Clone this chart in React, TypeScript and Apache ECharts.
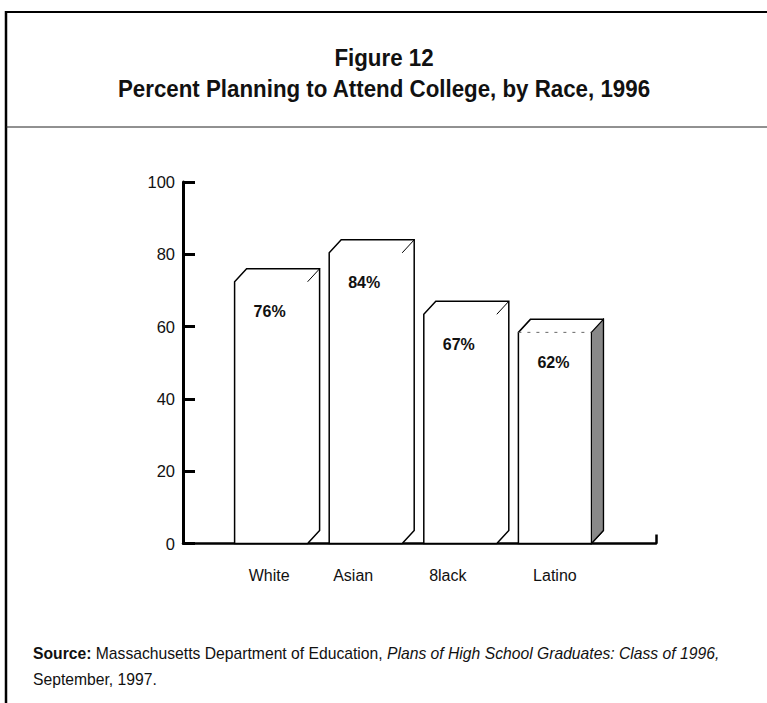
import React, { useEffect, useRef } from "react";
import * as echarts from "echarts";

const categories = ["White", "Asian", "8lack", "Latino"];
const percentPlanning = [76, 84, 67, 62];
const yMin = 0;
const yMax = 100;
const yInterval = 20;
const shadedCategory = "Latino";

const titleLine1 = "Figure 12";
const titleLine2 = "Percent Planning to Attend College, by Race, 1996";
const sourceLabel = "Source:";
const sourcePlain = " Massachusetts Department of Education, ";
const sourceItalic = "Plans of High School Graduates: Class of 1996,";
const sourceLine2 = "September, 1997.";

// style: horizontal nudge (px) of each category label, to the left
const labelNudge = [17, 38, 38, 13];

const SANS = "'Liberation Sans', Arial, Helvetica, sans-serif";

export default function App() {
  const ref = useRef<HTMLDivElement>(null);
  useEffect(() => {
    document.body.style.margin = "0";
    const chart = echarts.init(ref.current!, null, { renderer: "svg" });
    const axisData = ["", ...categories, ""];
    const DX = 12;
    const DY = 13;
    const FL = 43;
    const FR = 30;
    const titleText = (text: string, y: number) => ({
      type: "text",
      x: 384,
      y,
      scaleX: 0.93,
      style: {
        text,
        x: 0,
        y: 0,
        align: "center",
        verticalAlign: "middle",
        fontFamily: SANS,
        fontWeight: "bold",
        fontSize: 24,
        fill: "#111",
      },
    });
    const option: any = {
      animation: false,
      backgroundColor: "#ffffff",
      grid: { left: 183, right: 111, top: 182, bottom: 159.5, containLabel: false },
      xAxis: {
        type: "category",
        data: axisData,
        boundaryGap: false,
        axisLine: { show: true, lineStyle: { color: "#000", width: 2.5 } },
        axisTick: {
          show: true,
          inside: true,
          length: 9,
          interval: (index: number) => index === axisData.length - 1,
          lineStyle: { color: "#000", width: 2.5 },
        },
        axisLabel: {
          margin: 24,
          interval: 0,
          fontFamily: SANS,
          fontSize: 16,
          color: "#111",
          formatter: (v: string, i: number) => (v ? `{p${i}|${v}}` : ""),
          rich: Object.fromEntries(
            categories.map((_, k) => [
              `p${k + 1}`,
              { fontFamily: SANS, fontSize: 16, color: "#111", padding: [0, labelNudge[k], 0, 0] },
            ])
          ),
        },
        splitLine: { show: false },
      },
      yAxis: {
        type: "value",
        min: yMin,
        max: yMax,
        interval: yInterval,
        axisLine: { show: true, lineStyle: { color: "#000", width: 3 } },
        axisTick: { show: true, inside: true, length: 12, lineStyle: { color: "#000", width: 3 } },
        axisLabel: { margin: 8, fontFamily: SANS, fontSize: 16.5, color: "#111" },
        splitLine: { show: false },
      },
      series: [
        {
          type: "custom",
          clip: false,
          data: percentPlanning.map((v, i) => [i + 1, v]),
          renderItem: (params: any, api: any) => {
            const idx = api.value(0);
            const val = api.value(1);
            const pt = api.coord([idx, val]);
            const c = pt[0];
            const top = pt[1];
            const base = api.coord([idx, 0])[1];
            const x0 = c - FL;
            const x1 = c + FR;
            const shaded = categories[idx - 1] === shadedCategory;
            const children: any[] = [
              {
                type: "polygon",
                shape: {
                  points: [
                    [x0, base],
                    [x0, top + DY],
                    [x0 + DX, top],
                    [x1 + DX, top],
                    [x1 + DX, base - DY],
                    [x1, base],
                  ],
                },
                style: { fill: "#fff", stroke: "#000", lineWidth: 1.5 },
              },
            ];
            if (shaded) {
              children.push({
                type: "polygon",
                shape: {
                  points: [
                    [x1, top + DY],
                    [x1 + DX, top],
                    [x1 + DX, base - DY],
                    [x1, base],
                  ],
                },
                style: { fill: "#888888", stroke: "#000", lineWidth: 1.2 },
              });
              children.push({
                type: "line",
                shape: { x1: x0, y1: top + DY, x2: x1, y2: top + DY },
                style: { stroke: "#666", lineWidth: 1, lineDash: [3, 6] },
              });
            } else {
              children.push({
                type: "line",
                shape: { x1: x1, y1: top + DY, x2: x1 + DX, y2: top },
                style: { stroke: "#000", lineWidth: 1 },
              });
            }
            children.push({
              type: "text",
              style: {
                text: `${val}%`,
                x: c - 8,
                y: top + 43,
                align: "center",
                verticalAlign: "middle",
                fontFamily: SANS,
                fontWeight: "bold",
                fontSize: 16,
                fill: "#111",
              },
            });
            return { type: "group", children };
          },
        },
      ],
      graphic: [
        {
          type: "line",
          shape: { x1: 5, y1: 12, x2: 767, y2: 12 },
          style: { stroke: "#000", lineWidth: 2 },
        },
        {
          type: "line",
          shape: { x1: 6, y1: 11, x2: 6, y2: 703 },
          style: { stroke: "#000", lineWidth: 2.5 },
        },
        {
          type: "line",
          shape: { x1: 6, y1: 127, x2: 767, y2: 127 },
          style: { stroke: "#222", lineWidth: 1 },
        },
        titleText(titleLine1, 57.5),
        titleText(titleLine2, 89),
        {
          type: "text",
          x: 33,
          y: 653,
          style: {
            text: `{b|${sourceLabel}}{r|${sourcePlain}}{i|${sourceItalic}}`,
            x: 0,
            y: 0,
            verticalAlign: "middle",
            rich: {
              b: { fontFamily: SANS, fontWeight: "bold", fontSize: 15.7, fill: "#111" },
              r: { fontFamily: SANS, fontSize: 15.7, fill: "#111" },
              i: { fontFamily: SANS, fontStyle: "italic", fontSize: 15.7, fill: "#111" },
            },
          },
        },
        {
          type: "text",
          x: 33,
          y: 679,
          style: {
            text: sourceLine2,
            x: 0,
            y: 0,
            verticalAlign: "middle",
            fontFamily: SANS,
            fontSize: 15.7,
            fill: "#111",
          },
        },
      ],
    };
    chart.setOption(option);
    return () => chart.dispose();
  }, []);
  return <div ref={ref} style={{ width: 767, height: 703 }} />;
}
